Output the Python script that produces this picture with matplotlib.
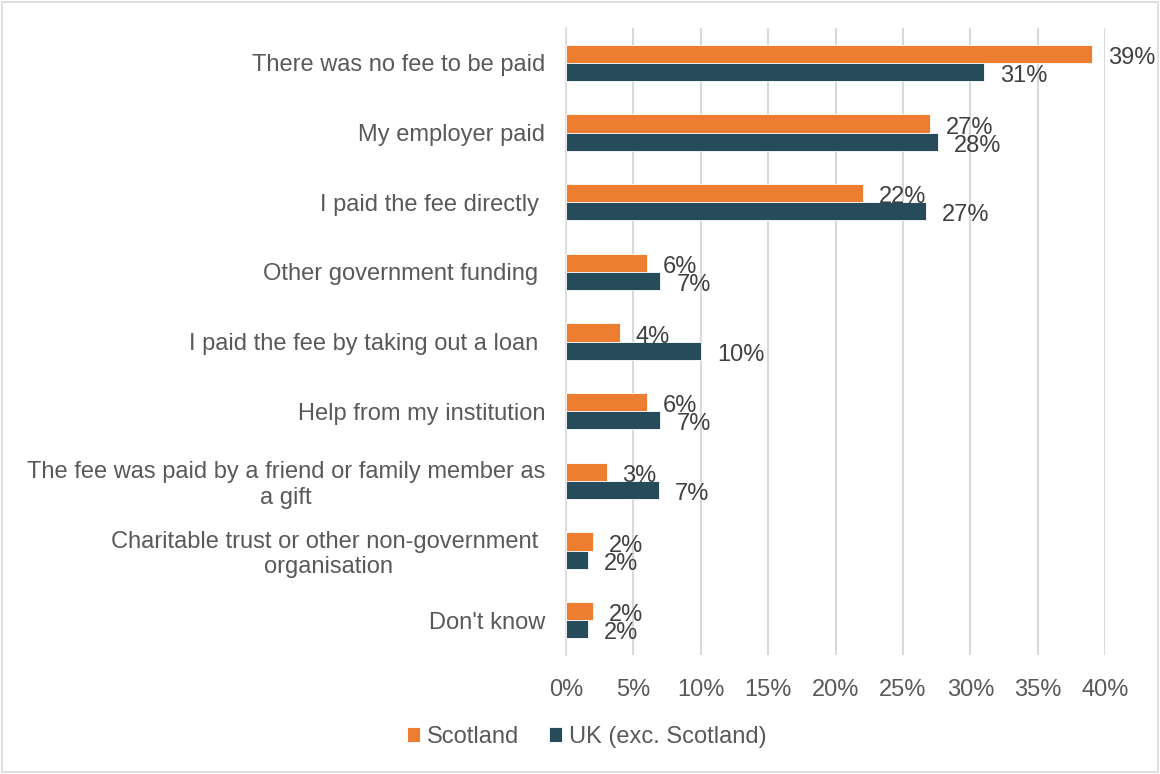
import numpy as np
import matplotlib.pyplot as plt
from matplotlib.patches import Rectangle

#### Data ####

categories = ["There was no fee to be paid",
              "My employer paid",
              "I paid the fee directly ",
              "Other government funding ",
              "I paid the fee by taking out a loan ",
              "Help from my institution",
              "The fee was paid by a friend or family member as\na gift",
              "Charitable trust or other non-government \norganisation",
              "Don't know"]

scotland = [39, 27, 22, 6, 4, 6, 3, 2, 2]
uk_exc_scotland = [31, 27.6, 26.7, 7, 10, 7, 6.9, 1.6, 1.6]

series_names = ["Scotland", "UK (exc. Scotland)"]
xticks = [0, 5, 10, 15, 20, 25, 30, 35, 40]

#### Style ####

orange = "#ED7D31"
teal = "#264B5A"
grey_txt = "#595959"
grid_col = "#D9D9D9"
fs = 17

plt.rcParams['font.family'] = ['Liberation Sans', 'DejaVu Sans']

fig = plt.figure(figsize=(11.6, 7.74), dpi=100)
ax = fig.add_axes([0.488, 0.1537, 0.4647, 0.8101])

y = np.arange(len(categories))
h = 0.26

b1 = ax.barh(y - h / 2, scotland, height=h, color=orange,
             edgecolor="white", linewidth=0.6, label=series_names[0], zorder=3)
b2 = ax.barh(y + h / 2, uk_exc_scotland, height=h, color=teal,
             edgecolor="white", linewidth=0.6, label=series_names[1], zorder=3)

# value labels just past the bar ends
for bars, vals in ((b1, scotland), (b2, uk_exc_scotland)):
    for bar, v in zip(bars, vals):
        ax.annotate("%d%%" % round(v),
                    xy=(bar.get_width(), bar.get_y() + bar.get_height() / 2),
                    xytext=(11.5, -3), textcoords="offset points",
                    ha="left", va="center", fontsize=fs, color="#404040",
                    zorder=4)

ax.set_xlim(0, 40)
ax.set_ylim(len(categories) - 0.5, -0.5)
ax.set_xticks(xticks)
ax.set_xticklabels(["%d%%" % t for t in xticks])
ax.set_yticks(y)
ax.set_yticklabels(categories, multialignment="center")

ax.tick_params(axis="x", length=0, pad=17, labelsize=fs, labelcolor=grey_txt)
ax.tick_params(axis="y", length=0, pad=15, labelsize=fs, labelcolor=grey_txt)

ax.xaxis.grid(True, color=grid_col, linewidth=1.5, zorder=0)
ax.set_axisbelow(True)
for s in ("top", "right", "bottom"):
    ax.spines[s].set_visible(False)
ax.spines["left"].set_color(grid_col)
ax.spines["left"].set_linewidth(1.2)

fig.legend(handles=[b1, b2], labels=series_names, loc="center",
           bbox_to_anchor=(0.506, 0.048), ncol=2, frameon=False,
           fontsize=fs, labelcolor=grey_txt, handlelength=0.55,
           handleheight=0.55, handletextpad=0.3, columnspacing=1.25)

# light frame round the whole chart
fig.patches.append(Rectangle((0.002, 0.002), 0.996, 0.996, transform=fig.transFigure,
                             fill=False, edgecolor=grid_col, linewidth=1.2))

fig.savefig("out.png", dpi=100)
